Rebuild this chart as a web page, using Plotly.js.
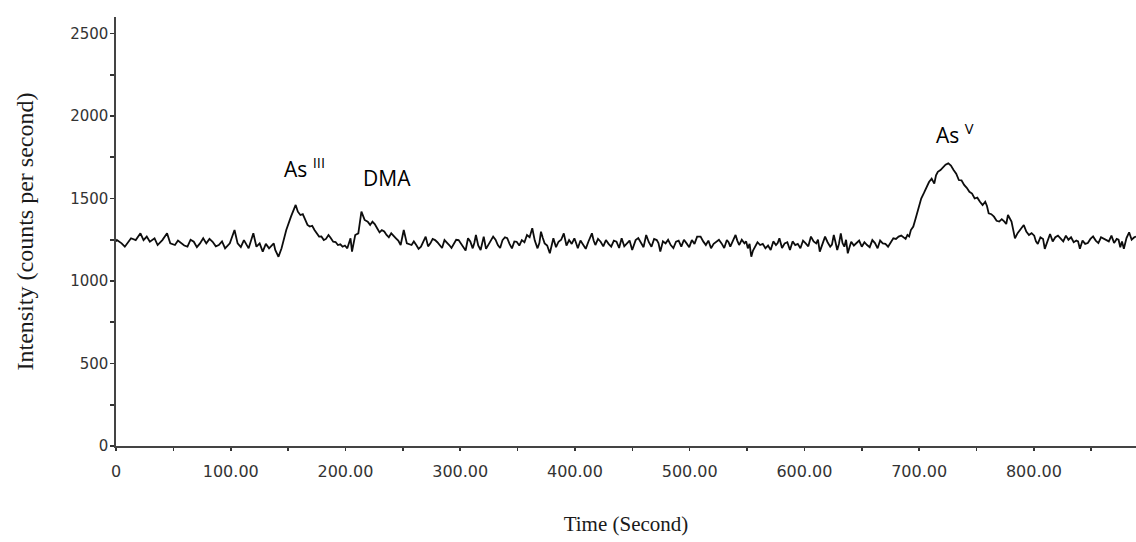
<!DOCTYPE html>
<html>
<head>
<meta charset="utf-8">
<script src="https://cdn.plot.ly/plotly-3.0.1.min.js"></script>
<style>html,body{margin:0;padding:0;background:#fff;}#chart{width:1136px;height:542px;}</style>
</head>
<body>
<div id="chart"></div>
<script>
// Readings of the chromatogram (time in seconds, intensity in counts per second)
const timeMain = [0,0.8,4.9,7.7,13.1,17.2,21.3,24.0,26.8,29.5,33.6,36.3,40.4,44.5,47.3,51.4,56.8,62.3,67.8,73.2,76.0,78.7,84.2,89.6,95.1,99.2,103.3,106.0,111.5,115.6,119.7,122.4,125.2,127.9,133.4,137.5,138.8,141.6,144.3,148.4,152.5,156.6,160.7,164.8,
168.9,173.0,177.0,181.1,185.2,189.3,193.4,197.5,201.6,204.4,205.7,208.5,211.2,213.9,216.7,219.4,223.5,227.6,231.7,235.8,239.9,244.0,248.1,250.8,253.5,257.6,261.7,265.8,269.9,274.0,278.1,282.2,286.3,290.4,294.5,298.6,302.7,306.8,310.9,313.7,317.8,320.5,324.6,
328.7,332.8,336.9,341.0,345.1,349.2,353.7,358.2,362.8,367.4,370.4,373.6,378.1,381.2,385.7,390.3,394.9,399.5,402.5,407.1,411.7,414.8,417.8,422.4,427.0,431.6,436.2,440.7,445.3,449.9,452.9,457.5,462.1,466.7,471.3,474.4,479.0,483.5,488.1,492.7,497.3,501.9,506.5,
509.5,514.1,518.6,523.2,527.8,532.4,535.4,540.0,543.1,547.7,550.7,553.7,556.8,561.4,566.0,570.6,575.2,578.2,582.8,587.4,592.0,596.5,601.1,605.7,610.3,613.4,618.0,622.5,625.6,628.6,631.7,634.8,637.8,640.8,645.4,650.0,654.6,659.2,663.8,668.3,672.9,677.5,682.1,686.7,689.8,692.8,
694.9,699.5,704.1,708.6,713.2,716.3,720.9,725.4,730.0,734.6,739.2,743.8,748.4,753.0,757.6,760.6,765.2,769.8,774.3,777.4,780.5,783.5,788.1,791.2,795.7,800.3,803.4,808.0,809.5,814.1,818.7,823.3,827.9,832.4,837.0,840.1,844.7,849.3,853.9,858.5,863.1,867.6,872.2,875.3,878.4,883.0,887.5];
const countMain = [1240,1248,1228,1208,1259,1248,1289,1248,1269,1238,1259,1218,1248,1289,1228,1218,1228,1208,1238,1228,1259,1228,1238,1218,1198,1228,1309,1228,1248,1198,1289,1208,1228,1178,1198,1228,1188,1147,1198,1309,1390,1461,1400,1375,
1330,1309,1269,1248,1279,1238,1218,1208,1198,1259,1178,1279,1289,1420,1370,1360,1360,1320,1309,1279,1289,1259,1218,1309,1228,1218,1218,1208,1269,1228,1248,1218,1248,1218,1228,1248,1208,1259,1198,1279,1188,1269,1218,
1269,1218,1248,1259,1198,1238,1248,1279,1320,1198,1299,1228,1168,1259,1238,1289,1248,1259,1198,1218,1238,1289,1218,1238,1248,1208,1238,1259,1228,1188,1248,1228,1279,1208,1248,1178,1228,1218,1238,1208,1228,1248,1269,
1269,1218,1198,1238,1228,1248,1208,1279,1218,1228,1198,1147,1208,1218,1198,1188,1218,1259,1228,1188,1218,1198,1228,1269,1228,1178,1269,1208,1279,1188,1289,1208,1168,1238,1228,1208,1218,1248,1198,1228,1208,1259,1269,1259,1279,1309,
1330,1450,1532,1600,1590,1662,1693,1713,1673,1612,1582,1541,1500,1480,1480,1410,1390,1360,1360,1400,1360,1258,1309,1339,1279,1275,1225,1255,1195,1285,1265,1255,1275,1265,1245,1195,1225,1255,1245,1265,1245,1275,1255,1205,1195,1295,1265];

// Finer readings of the noise between the main readings
const timeFine = [54,59.5,65,70.5,81.5,87,92.4,108.8,130.6,
158.5,162.8,166.9,171,175,179,183,187,191.4,195.5,199.5,
215.2,221.5,225.5,229.7,233.8,237.8,242,246,
259.6,263.7,267.8,272,276,280.1,284.2,288.3,292.4,296.5,300.6,304.7,308.8,312.3,315.7,319.2,322.5,
326.6,330.8,334.8,339,343,347.2,351.5,356,360.5,365,369,372,375.8,379.7,383.5,388,392.6,397.2,401,404.8,409.4,413.2,416.3,420.1,424.7,429.3,433.9,438.5,443,447.6,451.4,455.2,459.8,464.4,469,472.8,476.7,481.2,485.8,490.4,495,499.6,504.2,
511.8,516.3,520.9,525.5,530.1,533.9,537.7,541.5,545.4,549.2,552.2,555.2,559.1,563.7,568.3,572.9,576.7,580.5,585.1,589.7,594.2,598.8,603.4,608,611.8,615.7,620.2,624,627.1,630.1,633.2,636.3,639.3,643.1,647.7,652.3,656.9,661.5,666,670.6,675.2,679.8,684.4,688.2,691.3,
697,701.8,706.3,710.9,714.7,718.6,723,727.7,732.3,736.9,741.5,746.1,750.7,755.3,759.1,762.9,767.5,772,775.9,779,782,785.8,789.6,793.4,798,
801.8,805.7,811.8,816.4,821,825.6,830.1,834.7,838.5,842.4,847,851.6,856.2,860.8,865.3,869.9,873.8,876.8,880.7,885.2,889];
const countFine = [1245,1215,1250,1205,1255,1210,1240,1205,1225,
1420,1405,1340,1335,1285,1270,1255,1262,1236,1222,1215,
1395,1340,1345,1295,1300,1265,1270,1245,
1240,1195,1240,1210,1255,1235,1200,1235,1200,1250,1225,1185,1240,1230,1215,1240,1195,
1240,1250,1200,1265,1225,1240,1215,1235,1265,1245,1230,1260,1215,1215,1205,1250,1215,1225,1230,1245,1195,1260,1245,1255,1210,1225,1245,1200,1210,1245,1225,1260,1205,1235,1255,1230,1240,1250,1200,1245,1250,1205,1225,
1240,1245,1225,1250,1200,1235,1240,1245,1250,1240,1225,1185,1235,1225,1215,1240,1230,1200,1235,1240,1225,1245,1210,1240,1250,1225,1235,1220,1235,1225,1230,1250,1205,1215,1245,1235,1205,1230,1245,1225,1230,1255,1275,1255,1270,
1380,1500,1570,1620,1640,1672,1705,1700,1650,1610,1565,1530,1505,1460,1455,1405,1365,1375,1345,1380,1310,1290,1325,1300,1290,
1240,1265,1245,1240,1275,1240,1250,1235,1240,1245,1230,1270,1230,1255,1240,1230,1250,1240,1260,1250,1270];

const xTickVals = [0,100,200,300,400,500,600,700,800];
const xTickText = ["0","100.00","200.00","300.00","400.00","500.00","600.00","700.00","800.00"];
const yTickVals = [0,500,1000,1500,2000,2500];

const peakLabels = ["As <sup>III</sup>","DMA","As <sup>V</sup>"];
const peakLabelTime = [164,236,731];
const peakLabelCount = [1690,1625,1895];

// merge the two sets of readings in time order
const pts = timeMain.map((t,i)=>[t,countMain[i]]).concat(timeFine.map((t,i)=>[t,countFine[i]]));
pts.sort((a,b)=>a[0]-b[0]);
const time = pts.map(p=>p[0]);
const intensity = pts.map(p=>p[1]);

const trace = {
  x: time, y: intensity, type: 'scatter', mode: 'lines',
  line: {color:'#0d0d0d', width:1.8}, hoverinfo:'skip'
};

const xTickFont = {family:'DejaVu Sans, sans-serif', size:16, color:'#333333'};
const yTickFont = {family:'DejaVu Sans, sans-serif', size:15, color:'#333333'};
const xTitleFont = {family:'Liberation Serif, Times New Roman, serif', size:21, color:'#1a1a1a'};
const yTitleFont = {family:'Liberation Serif, Times New Roman, serif', size:24, color:'#1a1a1a'};

const layout = {
  width:1136, height:542,
  margin:{l:116, r:0, t:17, b:96, pad:0},
  paper_bgcolor:'#ffffff', plot_bgcolor:'#ffffff',
  showlegend:false,
  xaxis:{
    range:[0,889], showgrid:false, zeroline:false,
    showline:true, linecolor:'#444444', linewidth:1.6,
    tickmode:'array', tickvals:xTickVals, ticktext:xTickText,
    ticks:'outside', ticklen:3, tickwidth:1.6, tickcolor:'#333333',
    minor:{tick0:0, dtick:50, ticks:'outside', ticklen:3, tickwidth:1.6, tickcolor:'#333333'},
    ticklabelstandoff:7,
    tickfont:xTickFont,
    title:{text:'Time (Second)', font:xTitleFont, standoff:36}
  },
  yaxis:{
    range:[0,2600], showgrid:false, zeroline:false,
    showline:true, linecolor:'#444444', linewidth:1.6,
    tickmode:'array', tickvals:yTickVals,
    ticks:'outside', ticklen:3, tickwidth:1.6, tickcolor:'#333333',
    minor:{tick0:0, dtick:250, ticks:'outside', ticklen:4, tickwidth:1.6, tickcolor:'#333333'},
    tickfont:yTickFont,
    title:{text:'Intensity (counts per second)', font:yTitleFont, standoff:30}
  },
  annotations: peakLabels.map((txt,i)=>({
    x:peakLabelTime[i], y:peakLabelCount[i], xref:'x', yref:'y',
    text:txt, showarrow:false, xanchor:'center', yanchor:'middle',
    font:{family:'Open Sans, sans-serif', size:21, color:'#000000'}
  }))
};

Plotly.newPlot('chart',[trace],layout,{displayModeBar:false, staticPlot:true});
</script>
</body>
</html>
